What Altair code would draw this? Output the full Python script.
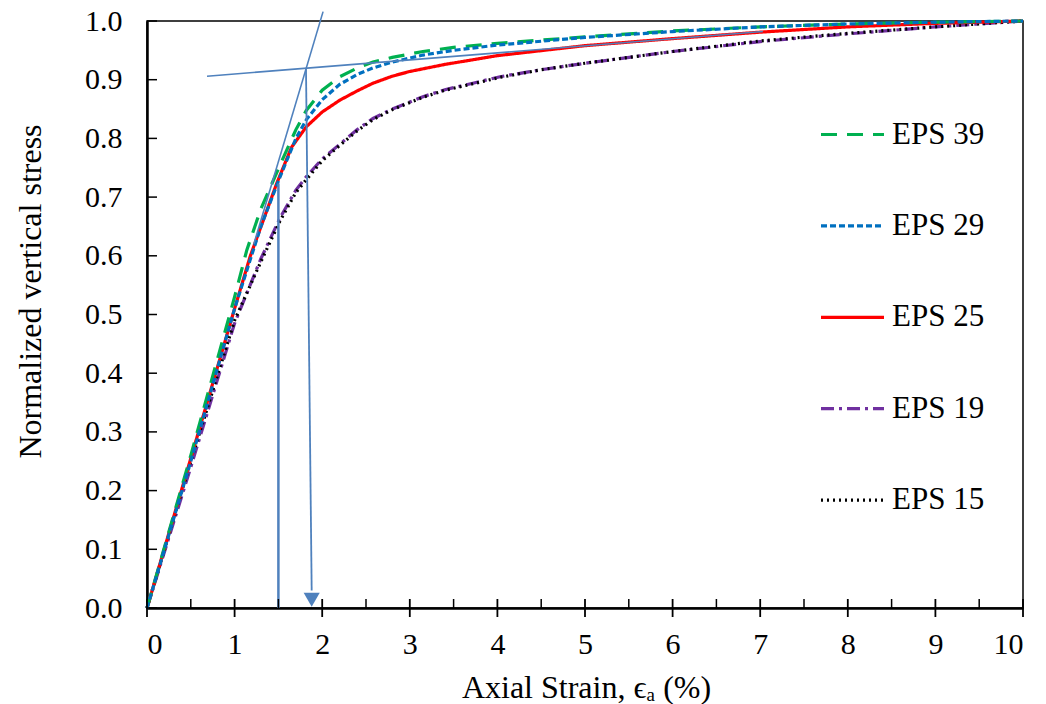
import altair as alt
import pandas as pd

# ---- data ----
series_names = ["EPS 39", "EPS 29", "EPS 25", "EPS 19", "EPS 15"]
series_colors = ["#00B050", "#0070C0", "#FF0000", "#7030A0", "#000000"]
series_dashes = [[16, 10], [6, 3], [1, 0], [13, 5, 3, 5], [2, 4]]

eps39_x = [0, 0.5, 1.0, 1.14, 1.3, 1.52, 1.7, 1.82, 2.0, 2.2, 2.4, 2.58, 2.8, 3.15, 3.5, 4.0, 5.0, 6.0, 7.0, 8.0, 9.0, 10]
eps39_y = [0, 0.26, 0.53, 0.61, 0.68, 0.755, 0.815, 0.848, 0.882, 0.905, 0.92, 0.93, 0.938, 0.948, 0.955, 0.962, 0.973, 0.983, 0.99, 0.995, 0.998, 1.0]

eps29_x = [0, 0.5, 1.0, 1.3, 1.52, 1.7, 1.82, 2.0, 2.2, 2.4, 2.58, 2.8, 3.15, 3.5, 4.0, 5.0, 6.0, 7.0, 8.0, 9.0, 10]
eps29_y = [0, 0.25, 0.51, 0.65, 0.735, 0.8, 0.832, 0.866, 0.892, 0.909, 0.92, 0.93, 0.942, 0.95, 0.959, 0.972, 0.982, 0.99, 0.995, 0.998, 1.0]

eps25_x = [0, 0.5, 1.0, 1.18, 1.48, 1.65, 1.82, 2.0, 2.2, 2.4, 2.58, 2.8, 3.0, 3.4, 3.72, 4.0, 5.0, 6.0, 7.0, 8.0, 9.0, 10]
eps25_y = [0, 0.255, 0.51, 0.6, 0.723, 0.785, 0.82, 0.845, 0.865, 0.881, 0.894, 0.906, 0.914, 0.926, 0.934, 0.941, 0.958, 0.97, 0.981, 0.99, 0.996, 1.0]

eps19_x = [0, 0.5, 1.0, 1.3, 1.52, 1.7, 1.82, 2.0, 2.2, 2.4, 2.58, 2.8, 3.15, 3.4, 3.72, 4.03, 4.5, 5.0, 6.0, 7.0, 8.0, 9.0, 10]
eps19_y = [0, 0.24, 0.485, 0.595, 0.665, 0.712, 0.735, 0.765, 0.79, 0.815, 0.834, 0.85, 0.871, 0.883, 0.894, 0.905, 0.917, 0.928, 0.948, 0.965, 0.978, 0.99, 1.0]

eps15_x = [0, 0.5, 1.0, 1.3, 1.52, 1.7, 1.82, 2.0, 2.2, 2.4, 2.58, 2.8, 3.15, 3.4, 3.72, 4.03, 4.5, 5.0, 6.0, 7.0, 8.0, 9.0, 10]
eps15_y = [0, 0.25, 0.49, 0.59, 0.66, 0.708, 0.73, 0.762, 0.788, 0.813, 0.832, 0.849, 0.87, 0.882, 0.893, 0.904, 0.917, 0.928, 0.948, 0.966, 0.979, 0.99, 1.0]

# annotation lines (construction for yield point)
tangent_steep_x = [1.22, 2.01]
tangent_steep_y = [0.62, 1.016]
tangent_flat_x = [0.685, 7.03]
tangent_flat_y = [0.906, 0.982]
vline_x = [1.5, 1.5]
vline_y = [0.0, 0.723]
arrow_x = [1.815, 1.88]
arrow_y = [0.919, 0.03]
arrow_head_x = [1.88]
arrow_head_y = [0.014]

x_major = [0, 1, 2, 3, 4, 5, 6, 7, 8, 9, 10]
x_minor = [0.5, 1.5, 2.5, 3.5, 4.5, 5.5, 6.5, 7.5, 8.5, 9.5]
y_major = [0, 0.1, 0.2, 0.3, 0.4, 0.5, 0.6, 0.7, 0.8, 0.9, 1.0]

FONT = "Liberation Serif"
ANN = "#4F81BD"
W, H = 876, 587

# ---- build tables ----
rows = []
for name, xs, ys in [("EPS 19", eps19_x, eps19_y), ("EPS 15", eps15_x, eps15_y),
                     ("EPS 25", eps25_x, eps25_y), ("EPS 39", eps39_x, eps39_y),
                     ("EPS 29", eps29_x, eps29_y)]:
    for xv, yv in zip(xs, ys):
        rows.append({"series": name, "x": xv, "y": yv})
curves = pd.DataFrame(rows)

xs_scale = alt.Scale(domain=[0, 10], nice=False, zero=True)
ys_scale = alt.Scale(domain=[0, 1], nice=False, zero=True)

x_enc = alt.X("x:Q", scale=xs_scale,
              axis=alt.Axis(values=x_major, format="d", title="Axial Strain, ϵₐ (%)",
                            ticks=False, tickSize=0, grid=False, labelPadding=21,
                            titleX=W / 2 + 1, titleY=89, titleBaseline="alphabetic",
                            titleAlign="center"))
y_enc = alt.Y("y:Q", scale=ys_scale,
              axis=alt.Axis(values=y_major, format=".1f", title="Normalized vertical stress",
                            ticks=False, tickSize=0, grid=False, labelPadding=25,
                            titleX=-117, titleY=270, titleAngle=270,
                            titleBaseline="middle", titleAlign="center"))

leg = alt.Legend(title=None, orient="none", legendX=672, legendY=80,
                 symbolType="stroke", symbolSize=3969,
                 symbolStrokeWidth=3.2, labelFont=FONT, labelFontSize=31,
                 labelColor="black", rowPadding=42.4, labelOffset=6, padding=0)

lines = alt.Chart(curves).mark_line(strokeWidth=3.2).encode(
    x=x_enc,
    y=y_enc,
    color=alt.Color("series:N", scale=alt.Scale(domain=series_names, range=series_colors),
                    legend=leg),
    strokeDash=alt.StrokeDash("series:N",
                              scale=alt.Scale(domain=series_names, range=series_dashes),
                              legend=leg),
    detail="series:N",
)

def seg(xs, ys, width):
    df = pd.DataFrame({"x": xs, "y": ys})
    return alt.Chart(df).mark_line(color=ANN, strokeWidth=width).encode(
        x=alt.X("x:Q", scale=xs_scale), y=alt.Y("y:Q", scale=ys_scale))

steep = seg(tangent_steep_x, tangent_steep_y, 1.6)
flat = seg(tangent_flat_x, tangent_flat_y, 1.6)
vline = seg(vline_x, vline_y, 2.5)
arrow = seg(arrow_x, arrow_y, 1.8)
head = alt.Chart(pd.DataFrame({"x": arrow_head_x, "y": arrow_head_y})).mark_point(
    shape="triangle-down", filled=True, color=ANN, size=260, opacity=1).encode(
    x=alt.X("x:Q", scale=xs_scale), y=alt.Y("y:Q", scale=ys_scale))

# tick marks
xmaj = alt.Chart(pd.DataFrame({"x": x_major})).mark_rule(color="black", strokeWidth=1.8).encode(
    x=alt.X("x:Q", scale=xs_scale), y=alt.value(H - 9), y2=alt.value(H + 9))
xmin = alt.Chart(pd.DataFrame({"x": x_minor})).mark_rule(color="black", strokeWidth=1.5).encode(
    x=alt.X("x:Q", scale=xs_scale), y=alt.value(H - 9), y2=alt.value(H))
ymaj = alt.Chart(pd.DataFrame({"y": y_major})).mark_rule(color="black", strokeWidth=1.5).encode(
    y=alt.Y("y:Q", scale=ys_scale), x=alt.value(0), x2=alt.value(10))

chart = alt.layer(lines, steep, flat, vline, arrow, head, xmaj, xmin, ymaj).properties(
    width=W, height=H,
    background="white",
    padding={"left": 147, "top": 21, "right": 23, "bottom": 96},
    autosize=alt.AutoSizeParams(type="none"),
).configure_view(stroke="black", strokeWidth=1.5).configure_axis(
    domainColor="black", domainWidth=2.5,
    labelFont=FONT, labelFontSize=30, labelColor="black",
    titleFont=FONT, titleFontSize=32, titleColor="black", titleFontWeight="normal",
)

chart.save("out.html", embed_options={"renderer": "svg", "actions": False})
